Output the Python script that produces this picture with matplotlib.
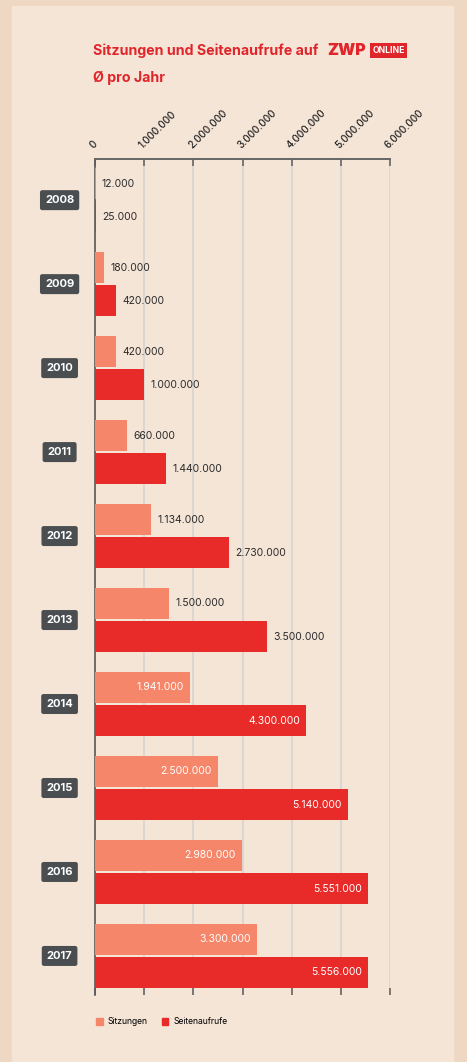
import matplotlib.pyplot as plt
from matplotlib.patches import Rectangle

years = ["2008", "2009", "2010", "2011", "2012", "2013", "2014", "2015", "2016", "2017"]
sitzungen = [12000, 180000, 420000, 660000, 1134000, 1500000, 1941000, 2500000, 2980000, 3300000]
seitenaufrufe = [25000, 420000, 1000000, 1440000, 2730000, 3500000, 4300000, 5140000, 5551000, 5556000]
x_ticks = [0, 1000000, 2000000, 3000000, 4000000, 5000000, 6000000]
x_tick_labels = ["0", "1.000.000", "2.000.000", "3.000.000", "4.000.000", "5.000.000", "6.000.000"]

C_SITZ = "#F5866A"
C_SEITE = "#E82A28"
C_RED = "#E0262B"
C_DARK = "#4A4E50"
BG_OUT = "#EFD8C3"
BG_IN = "#F5E5D7"

plt.rcParams["font.family"] = ["Inter", "DejaVu Sans"]


def fmt(v):
    return f"{v:,}".replace(",", ".")


fig = plt.figure(figsize=(4.67, 10.62), dpi=100)
fig.patch.set_facecolor(BG_OUT)
fig.patches.append(Rectangle((12 / 467, 0), 441 / 467, 1 - 6 / 1062,
                             transform=fig.transFigure, color=BG_IN, zorder=-10))

ax = fig.add_axes([95 / 467, 67 / 1062, 295 / 467, 836 / 1062])
ax.set_zorder(2)
ax.set_facecolor("none")

idx = list(range(len(years)))
h = 0.37
off = 0.197
pos_s = [i - off for i in idx]
pos_p = [i + off for i in idx]
ax.barh(pos_s, sitzungen, height=h, color=C_SITZ, zorder=3)
ax.barh(pos_p, seitenaufrufe, height=h, color=C_SEITE, zorder=3)

# value labels: inside (white) for the long bars, outside (dark) otherwise
for y, v in zip(pos_s, sitzungen):
    if v > 1900000:
        ax.text(v - 130000, y, fmt(v), ha="right", va="center", color="white", fontsize=7.5, zorder=4)
    else:
        ax.text(v + 130000, y, fmt(v), ha="left", va="center", color="#2B2B2B", fontsize=7.5, zorder=4)
for y, v in zip(pos_p, seitenaufrufe):
    if v > 4000000:
        ax.text(v - 130000, y, fmt(v), ha="right", va="center", color="white", fontsize=7.5, zorder=4)
    else:
        ax.text(v + 130000, y, fmt(v), ha="left", va="center", color="#2B2B2B", fontsize=7.5, zorder=4)

ax.set_xlim(0, 6000000)
ax.set_ylim(9.465, -0.49)

ax.xaxis.tick_top()
ax.set_xticks(x_ticks)
ax.set_xticklabels(x_tick_labels, rotation=45, ha="left", va="bottom",
                   rotation_mode="anchor", fontsize=7.2, fontweight="medium",
                   color="#222222")
ax.tick_params(axis="x", which="both", top=True, bottom=True, direction="in",
               length=5, width=1.2, color="#666666", pad=6)
ax.tick_params(axis="x", labelbottom=False)
ax.set_yticks([])
ax.grid(axis="x", color="#D6D4CF", linewidth=1.2, zorder=1)

for side in ["right", "bottom"]:
    ax.spines[side].set_visible(False)
ax.spines["top"].set_color("#666666")
ax.spines["top"].set_linewidth(1.4)
ax.spines["left"].set_color("#5A5A5A")
ax.spines["left"].set_linewidth(1.2)

# year boxes on the left
for i, yr in enumerate(years):
    ax.text(-720000, i, yr, ha="center", va="center", color="white", fontsize=8,
            fontweight="bold", zorder=5, clip_on=False,
            bbox=dict(boxstyle="round,pad=0.45,rounding_size=0.2", fc=C_DARK, ec="none"))

# title
fig.text(93 / 467, 1 - 51 / 1062, "Sitzungen und Seitenaufrufe auf", color=C_RED,
         fontsize=10.2, fontweight="bold", va="center", ha="left")
fig.text(93 / 467, 1 - 78 / 1062, "Ø pro Jahr", color=C_RED,
         fontsize=10.2, fontweight="bold", va="center", ha="left")
fig.text(327 / 467, 1 - 51 / 1062, "ZWP", color=C_RED, fontsize=11.5,
         fontweight="black", va="center", ha="left")
fig.text(388.5 / 467, 1 - 50.5 / 1062, "ONLINE", color="white", fontsize=6.2,
         fontweight="bold", va="center", ha="center",
         bbox=dict(boxstyle="square,pad=0.3", fc=C_RED, ec="none"))

# legend
handles = [Rectangle((0, 0), 1, 1, color=C_SITZ), Rectangle((0, 0), 1, 1, color=C_SEITE)]
fig.legend(handles, ["Sitzungen", "Seitenaufrufe"], loc="center left",
           bbox_to_anchor=(88 / 467, 1 - 1022 / 1062), ncol=2, frameon=False,
           fontsize=6.2, handlelength=0.8, handleheight=0.8, columnspacing=1.6,
           handletextpad=0.6)

fig.savefig("out.png", dpi=100, facecolor=fig.get_facecolor())
